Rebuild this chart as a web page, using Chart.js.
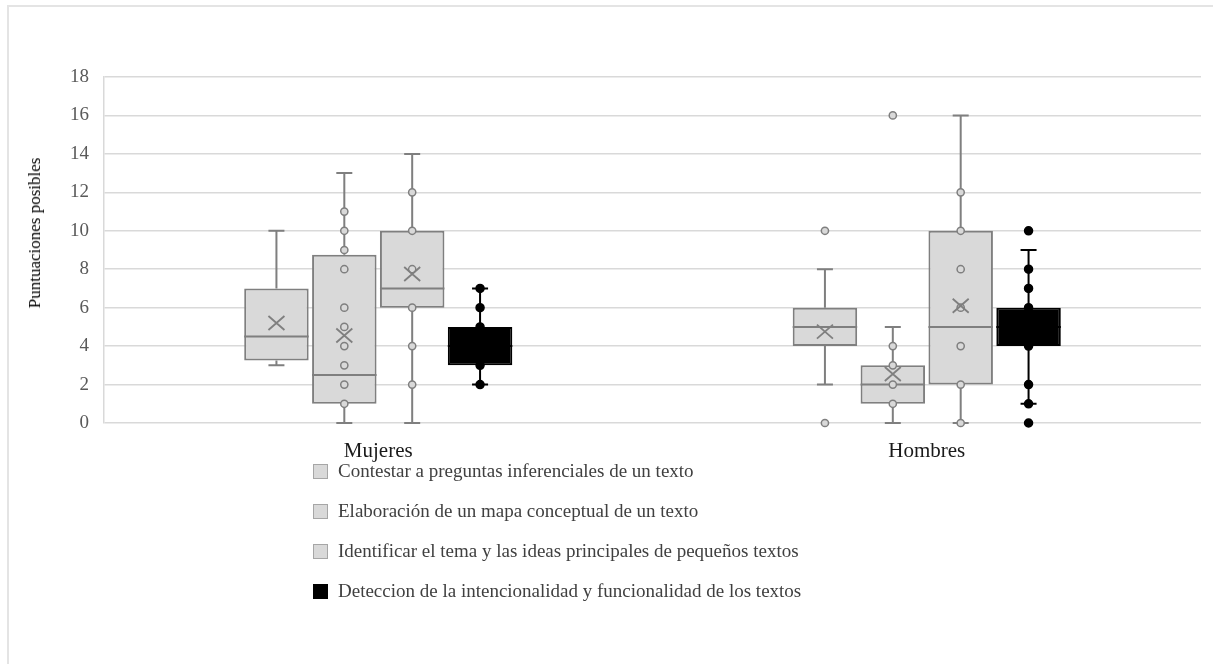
<!DOCTYPE html>
<html><head><meta charset="utf-8">
<script src="https://cdn.jsdelivr.net/npm/chart.js@4.4.1/dist/chart.umd.min.js"></script>
<style>
html,body{margin:0;padding:0;background:#fff;}
#wrap{position:relative;width:1213px;height:664px;overflow:hidden;background:#fff;}
#frame{position:absolute;left:7px;top:5px;width:1300px;height:700px;border-left:2px solid #e4e4e4;border-top:2px solid #e4e4e4;}
#c{position:absolute;left:0;top:0;}
#ytitle{position:absolute;left:35px;top:233px;transform:translate(-50%,-50%) rotate(-90deg);font:17px 'Liberation Serif';white-space:nowrap;color:#000;}
#legend{position:absolute;left:313px;top:451px;font:19px 'Liberation Serif';color:#404040;}
.item{height:40px;display:flex;align-items:center;white-space:nowrap;}
.sw{width:15px;height:15px;border:1px solid #a6a6a6;background:#d9d9d9;margin-right:10px;box-sizing:border-box;}
</style>
</head><body>
<div id="wrap">
<div id="frame"></div>
<canvas id="c" width="1213" height="664"></canvas>
<div id="ytitle">Puntuaciones posibles</div>
<div id="legend"></div>
</div>
<script>
const categories = ['Mujeres', 'Hombres'];
const seriesNames = [
  'Contestar a preguntas inferenciales de un texto',
  'Elaboración de un mapa conceptual de un texto',
  'Identificar el tema y las ideas principales de pequeños textos',
  'Deteccion de la intencionalidad y funcionalidad de los textos'
];
const yTicks = [0, 2, 4, 6, 8, 10, 12, 14, 16, 18];
// per series: [Mujeres, Hombres]
const mins    = [[3, 2], [0, 0], [0, 0], [2, 1]];
const q1s     = [[3.25, 4], [1, 1], [6, 2], [3, 4]];
const medians = [[4.5, 5], [2.5, 2], [7, 5], [4, 5]];
const q3s     = [[7, 6], [8.75, 3], [10, 10], [5, 6]];
const maxs    = [[10, 8], [13, 5], [14, 16], [7, 9]];
const means   = [[5.2, 4.75], [4.55, 2.55], [7.75, 6.1], [4, 5]];
const points  = [
  [[], [10, 0]],
  [[1, 2, 3, 4, 5, 6, 8, 9, 10, 11], [1, 2, 3, 4, 16]],
  [[2, 4, 6, 8, 10, 12], [0, 2, 4, 6, 8, 10, 12]],
  [[2, 3, 5, 6, 7], [0, 1, 2, 4, 6, 7, 8, 10]]
];
const fills = ['#d9d9d9', '#d9d9d9', '#d9d9d9', '#000000'];
const lines = ['#7f7f7f', '#7f7f7f', '#7f7f7f', '#000000'];

// legend
const lg = document.getElementById('legend');
seriesNames.forEach((n, i) => {
  const d = document.createElement('div'); d.className = 'item';
  const s = document.createElement('span'); s.className = 'sw';
  if (i === 3) { s.style.background = '#000'; s.style.borderColor = '#000'; }
  const t = document.createElement('span'); t.textContent = n;
  d.appendChild(s); d.appendChild(t); lg.appendChild(d);
});

const boxPlugin = {
  id: 'boxExtras',
  beforeDatasetsDraw(chart) {
    const ctx = chart.ctx, y = chart.scales.y;
    chart.data.datasets.forEach((ds, i) => {
      const meta = chart.getDatasetMeta(i);
      meta.data.forEach((bar, j) => {
        const x = bar.x;
        ctx.save();
        ctx.strokeStyle = lines[i]; ctx.lineWidth = 2;
        ctx.beginPath();
        ctx.moveTo(x, y.getPixelForValue(maxs[i][j])); ctx.lineTo(x, y.getPixelForValue(q3s[i][j]));
        ctx.moveTo(x, y.getPixelForValue(q1s[i][j])); ctx.lineTo(x, y.getPixelForValue(mins[i][j]));
        [maxs[i][j], mins[i][j]].forEach(v => {
          const py = y.getPixelForValue(v);
          ctx.moveTo(x - 8, py); ctx.lineTo(x + 8, py);
        });
        ctx.stroke();
        ctx.restore();
      });
    });
  },
  afterDatasetsDraw(chart) {
    const ctx = chart.ctx, y = chart.scales.y;
    chart.data.datasets.forEach((ds, i) => {
      const meta = chart.getDatasetMeta(i);
      meta.data.forEach((bar, j) => {
        const x = bar.x, w = bar.width;
        ctx.save();
        ctx.strokeStyle = lines[i]; ctx.lineWidth = 2;
        const my = y.getPixelForValue(medians[i][j]);
        ctx.beginPath(); ctx.moveTo(x - w / 2, my); ctx.lineTo(x + w / 2, my); ctx.stroke();
        // points
        points[i][j].forEach(v => {
          const py = y.getPixelForValue(v);
          ctx.beginPath(); ctx.arc(x, py, i === 3 ? 4 : 3.6, 0, Math.PI * 2);
          ctx.fillStyle = fills[i]; ctx.fill();
          ctx.lineWidth = 1.5; ctx.strokeStyle = lines[i]; ctx.stroke();
        });
        // mean
        const ey = y.getPixelForValue(means[i][j]);
        ctx.lineWidth = 1.8; ctx.strokeStyle = lines[i];
        ctx.beginPath();
        ctx.moveTo(x - 8, ey - 7); ctx.lineTo(x + 8, ey + 7);
        ctx.moveTo(x - 8, ey + 7); ctx.lineTo(x + 8, ey - 7);
        ctx.stroke();
        ctx.restore();
      });
    });
  }
};

new Chart(document.getElementById('c'), {
  type: 'bar',
  data: {
    labels: categories,
    datasets: seriesNames.map((n, i) => ({
      label: n,
      data: categories.map((c, j) => [q1s[i][j], q3s[i][j]]),
      backgroundColor: fills[i],
      borderColor: lines[i],
      borderWidth: 2,
      borderSkipped: false,
      categoryPercentage: 0.495,
      barPercentage: 0.95
    }))
  },
  options: {
    responsive: false,
    animation: false,
    events: [],
    layout: { padding: { top: 77, left: 0, right: 12, bottom: 201 } },
    plugins: { legend: { display: false }, tooltip: { enabled: false } },
    scales: {
      x: {
        grid: { display: false, drawTicks: false },
        border: { display: false },
        ticks: { padding: 16, color: '#1a1a1a', font: { family: 'Liberation Serif', size: 21 } },
        afterFit(s) { s.height = 40; }
      },
      y: {
        min: 0, max: 18,
        afterBuildTicks(s) { s.ticks = yTicks.map(v => ({ value: v })); },
        grid: { color: '#d9d9d9', lineWidth: 1.5, drawTicks: false },
        border: { display: true, color: '#d9d9d9', width: 1.5 },
        ticks: { padding: 15, color: '#595959', font: { family: 'Liberation Serif', size: 19 } },
        afterFit(s) { s.width = 104; }
      }
    }
  },
  plugins: [boxPlugin]
});
</script>
</body></html>
